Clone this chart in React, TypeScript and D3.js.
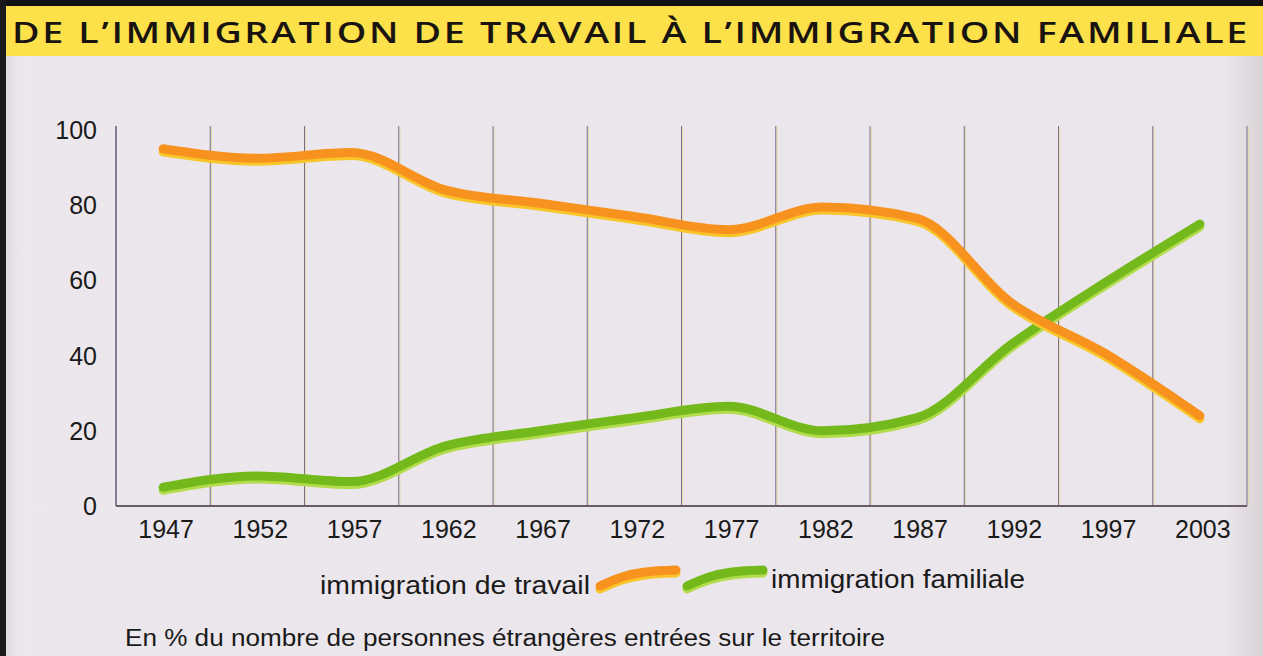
import React, { useEffect, useRef } from 'react';
import * as d3 from 'd3';

const years = ['1947', '1952', '1957', '1962', '1967', '1972', '1977', '1982', '1987', '1992', '1997', '2003'];
const travail = [95, 92.5, 94, 84, 80.5, 77, 73.5, 79.5, 76.5, 54, 40.5, 24];
const familiale = [5, 8, 6.5, 16, 20, 23.5, 26.5, 20, 23.5, 43, 59.5, 75];
const yTicks = [0, 20, 40, 60, 80, 100];

const W = 1263;
const H = 656;

export default function App() {
  const svgRef = useRef<SVGSVGElement>(null);

  useEffect(() => {
    if (!svgRef.current) return;
    const svg = d3.select(svgRef.current);
    svg.selectAll('*').remove();

    const left = 116, right = 1247, top = 126, bottom = 506;

    const x = d3.scaleBand<string>().domain(years).range([left, right]);
    const y = d3.scaleLinear().domain([0, 100]).range([bottom, 130]);
    const cx = (yr: string) => (x(yr) as number) + x.bandwidth() / 2;

    // paper background
    const defs = svg.append('defs');
    const bg = defs.append('linearGradient').attr('id', 'paper').attr('x1', '0%').attr('x2', '100%');
    bg.append('stop').attr('offset', '0%').attr('stop-color', '#dcd6db');
    bg.append('stop').attr('offset', '1.5%').attr('stop-color', '#ece7ec');
    bg.append('stop').attr('offset', '97%').attr('stop-color', '#ebe6eb');
    bg.append('stop').attr('offset', '100%').attr('stop-color', '#d9d3d8');

    svg.append('rect').attr('width', W).attr('height', H).attr('fill', 'url(#paper)');

    // title band
    svg.append('rect').attr('x', 0).attr('y', 0).attr('width', W).attr('height', 6).attr('fill', '#111');
    svg.append('rect').attr('x', 6).attr('y', 6).attr('width', W - 6).attr('height', 50).attr('fill', '#fce14b');
    svg.append('rect').attr('x', 0).attr('y', 0).attr('width', 6).attr('height', H).attr('fill', '#1a1a1a');

    svg.append('text')
      .attr('x', 12).attr('y', 43)
      .attr('textLength', 1238).attr('lengthAdjust', 'spacingAndGlyphs')
      .attr('font-family', '"Open Sans", "DejaVu Sans", sans-serif')
      .attr('font-size', 28).attr('font-weight', 600)
      .attr('letter-spacing', 2)
      .attr('fill', '#1a1410')
      .text('DE L\u2019IMMIGRATION DE TRAVAIL \u00C0 L\u2019IMMIGRATION FAMILIALE');

    // vertical grid lines (between year bands)
    const grid = years.map(yr => (x(yr) as number) + x.bandwidth());
    grid.forEach(gx => {
      svg.append('line')
        .attr('x1', gx + 1.2).attr('x2', gx + 1.2).attr('y1', top).attr('y2', bottom)
        .attr('stroke', '#e6da8a').attr('stroke-width', 0.8);
      svg.append('line')
        .attr('x1', gx).attr('x2', gx).attr('y1', top).attr('y2', bottom)
        .attr('stroke', '#7a6e90').attr('stroke-width', 1);
    });

    // axes
    svg.append('line')
      .attr('x1', left).attr('x2', left).attr('y1', top).attr('y2', bottom)
      .attr('stroke', '#6e6478').attr('stroke-width', 1.6);
    svg.append('line')
      .attr('x1', left).attr('x2', right).attr('y1', bottom).attr('y2', bottom)
      .attr('stroke', '#6a5c66').attr('stroke-width', 2);

    const font = '"Liberation Sans", Arial, sans-serif';

    svg.append('g').selectAll('text')
      .data(yTicks)
      .join('text')
      .attr('x', 97)
      .attr('y', d => y(d) + 9)
      .attr('text-anchor', 'end')
      .attr('font-family', font).attr('font-size', 25)
      .attr('fill', '#1a1a1a')
      .text(d => d);

    svg.append('g').selectAll('text')
      .data(years)
      .join('text')
      .attr('x', d => cx(d) + 3)
      .attr('y', 538)
      .attr('text-anchor', 'middle')
      .attr('font-family', font).attr('font-size', 25)
      .attr('fill', '#1a1a1a')
      .text(d => d);

    const line = d3.line<number>()
      .x((_, i) => cx(years[i]))
      .y(d => y(d))
      .curve(d3.curveMonotoneX);

    const drawSeries = (data: number[], main: string, light: string) => {
      svg.append('path')
        .datum(data)
        .attr('fill', 'none')
        .attr('stroke', light)
        .attr('stroke-width', 9)
        .attr('stroke-linecap', 'round')
        .attr('transform', 'translate(0,3)')
        .attr('d', line);
      svg.append('path')
        .datum(data)
        .attr('fill', 'none')
        .attr('stroke', main)
        .attr('stroke-width', 9)
        .attr('stroke-linecap', 'round')
        .attr('d', line);
    };

    drawSeries(familiale, '#74b91c', '#b3dc4c');
    drawSeries(travail, '#f7921f', '#f8c52a');

    // legend
    svg.append('text')
      .attr('x', 590).attr('y', 594)
      .attr('text-anchor', 'end')
      .attr('textLength', 270).attr('lengthAdjust', 'spacingAndGlyphs')
      .attr('font-family', font).attr('font-size', 25)
      .attr('fill', '#1a1a1a')
      .text('immigration de travail');

    svg.append('text')
      .attr('x', 771).attr('y', 588)
      .attr('textLength', 254).attr('lengthAdjust', 'spacingAndGlyphs')
      .attr('font-family', font).attr('font-size', 25)
      .attr('fill', '#1a1a1a')
      .text('immigration familiale');

    const swatch = d3.line<[number, number]>().curve(d3.curveMonotoneX);
    const sw: [number, number][] = [[0, 16], [22, 7], [45, 2], [76, 0]];
    const drawSwatch = (x0: number, main: string, light: string) => {
      const pts = sw.map(([a, b]) => [x0 + a, 570 + b] as [number, number]);
      svg.append('path').attr('d', swatch(pts)).attr('fill', 'none')
        .attr('stroke', light).attr('stroke-width', 9).attr('stroke-linecap', 'round')
        .attr('transform', 'translate(0,3)');
      svg.append('path').attr('d', swatch(pts)).attr('fill', 'none')
        .attr('stroke', main).attr('stroke-width', 9).attr('stroke-linecap', 'round');
    };
    drawSwatch(600, '#f7921f', '#f8c52a');
    drawSwatch(687, '#74b91c', '#b3dc4c');

    // footnote
    svg.append('text')
      .attr('x', 125).attr('y', 646)
      .attr('textLength', 760).attr('lengthAdjust', 'spacingAndGlyphs')
      .attr('font-family', font).attr('font-size', 23)
      .attr('fill', '#1a1a1a')
      .text('En % du nombre de personnes \u00E9trang\u00E8res entr\u00E9es sur le territoire');
  }, []);

  return (
    <svg
      ref={svgRef}
      width={W}
      height={H}
      style={{ position: 'fixed', left: 0, top: 0, display: 'block' }}
    />
  );
}
